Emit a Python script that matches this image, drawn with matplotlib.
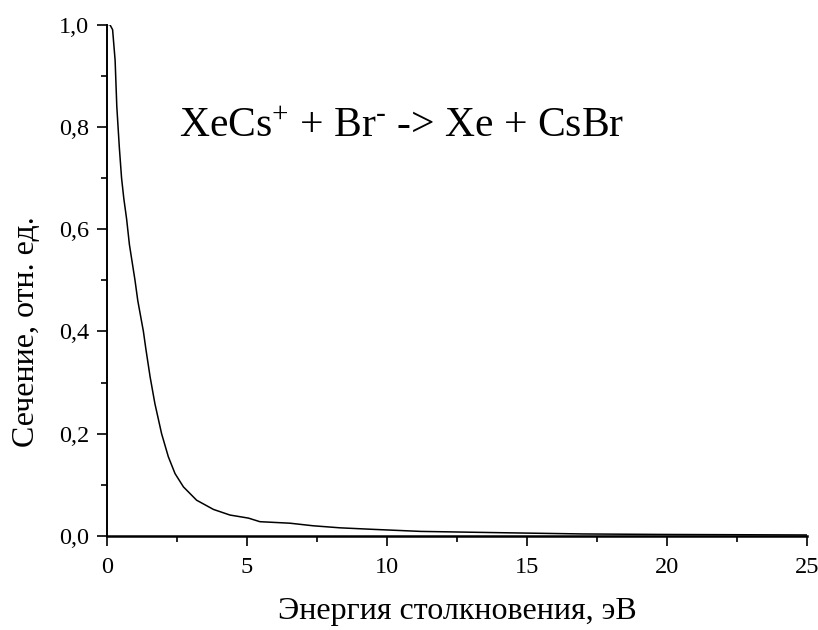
import matplotlib
matplotlib.use("Agg")
import matplotlib.pyplot as plt
from matplotlib.ticker import MultipleLocator, FuncFormatter

plt.rcParams["font.family"] = ["Liberation Serif", "DejaVu Serif"]
plt.rcParams["mathtext.fontset"] = "custom"
plt.rcParams["mathtext.rm"] = "Liberation Serif"
plt.rcParams["mathtext.it"] = "Liberation Serif:italic"

############################################################
# Data
############################################################

energy = [0.0, 0.1, 0.2, 0.29, 0.35, 0.44, 0.52, 0.6, 0.7, 0.8, 0.9,
          1.0, 1.1, 1.2, 1.3, 1.39, 1.54, 1.71, 1.95, 2.19, 2.43,
          2.73, 3.2, 3.8, 4.39, 5.05, 5.46, 6.54, 7.36, 8.32, 9.5,
          11.2, 14.0, 17.0, 20.0, 25.0]

cross_section = [1.0, 1.0, 0.99, 0.93, 0.84, 0.76, 0.70, 0.66, 0.62, 0.57, 0.535,
                 0.50, 0.46, 0.43, 0.40, 0.365, 0.311, 0.259, 0.20, 0.155, 0.122,
                 0.096, 0.070, 0.052, 0.041, 0.035, 0.028, 0.025, 0.020, 0.016, 0.013,
                 0.009, 0.0065, 0.004, 0.003, 0.002]

reaction = "XeCs$^{+}$ + Br$^{\\text{-}}$ -> Xe + CsBr"

############################################################
# Plot
############################################################

fig = plt.figure(figsize=(8.18, 6.3), dpi=100)
ax = fig.add_axes([0.1308, 0.1492, 0.8558, 0.8119])

ax.plot(energy, cross_section, color="black", linewidth=1.1)

ax.set_xlim(0, 25)
ax.set_ylim(0, 1.0)

ax.spines["top"].set_visible(False)
ax.spines["right"].set_visible(False)
ax.spines["left"].set_linewidth(1.4)
ax.spines["bottom"].set_linewidth(1.8)

ax.xaxis.set_major_locator(MultipleLocator(5))
ax.xaxis.set_minor_locator(MultipleLocator(2.5))
ax.yaxis.set_major_locator(MultipleLocator(0.2))
ax.yaxis.set_minor_locator(MultipleLocator(0.1))

ax.yaxis.set_major_formatter(FuncFormatter(lambda v, p: f"{v:.1f}".replace(".", ",")))

ax.tick_params(which="major", direction="out", length=7, width=1.2, labelsize=17.5)
ax.tick_params(axis="y", which="major", pad=6)
ax.tick_params(axis="x", which="major", pad=8)
ax.tick_params(which="minor", direction="out", length=4, width=1.2)

ax.set_xlabel("Энергия столкновения, эВ", fontsize=23)
ax.set_ylabel("Сечение, отн. ед.", fontsize=23)
ax.xaxis.label.set_va("center")
ax.yaxis.label.set_va("center")
ax.xaxis.set_label_coords(0.5, -0.148)
ax.yaxis.set_label_coords(-0.115, 0.40)

ax.text(2.57, 0.80, reaction, fontsize=30, va="center", ha="left")

fig.savefig("out.png", dpi=100)
